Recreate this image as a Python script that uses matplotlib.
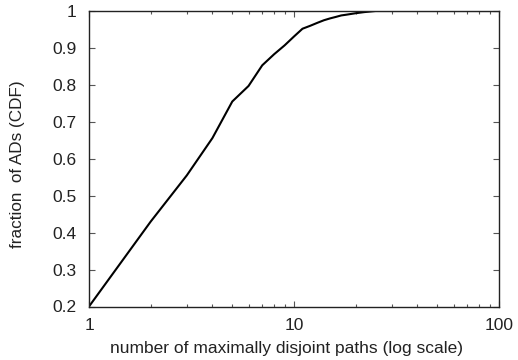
import matplotlib
matplotlib.use("Agg")
import matplotlib.pyplot as plt
from matplotlib.ticker import FixedLocator, NullFormatter

plt.rcParams['font.family'] = ['Liberation Sans', 'DejaVu Sans']

paths = [1, 2, 3, 4, 5, 6, 7, 8, 9, 10, 11, 12, 13, 14, 15, 16, 17, 18, 20, 22, 25, 100]
cdf = [0.2, 0.43, 0.555, 0.656, 0.755, 0.797, 0.853, 0.883, 0.907, 0.931, 0.952,
       0.96, 0.968, 0.975, 0.98, 0.984, 0.988, 0.99, 0.994, 0.997, 1.0, 1.0]
yticks = [0.2, 0.3, 0.4, 0.5, 0.6, 0.7, 0.8, 0.9, 1.0]
ytick_labels = ['0.2', '0.3', '0.4', '0.5', '0.6', '0.7', '0.8', '0.9', '1']
xticks = [1, 10, 100]
xtick_labels = ['1', '10', '100']

fig = plt.figure(figsize=(5.18, 3.6), dpi=100)
ax = fig.add_axes([89/518, 1-306.5/360, 410/518, 295.5/360])
ax.plot(paths, cdf, color='black', lw=1.5)
ax.set_xscale('log')
ax.set_xlim(1, 100)
ax.set_ylim(0.2, 1.0)
ax.set_xticks(xticks)
ax.set_xticklabels(xtick_labels)
ax.xaxis.set_minor_locator(FixedLocator([2,3,4,5,6,7,8,9,20,30,40,50,60,70,80,90]))
ax.xaxis.set_minor_formatter(NullFormatter())
ax.set_yticks(yticks)
ax.set_yticklabels(ytick_labels)
ax.tick_params(which='both', direction='in', top=True, right=True, colors='#555555',
               labelcolor='#222222', labelsize=12.5)
ax.tick_params(which='major', length=4, width=0.8, pad=8)
ax.tick_params(which='minor', length=2, width=0.8)
ax.tick_params(axis='y', pad=9)
for s in ax.spines.values():
    s.set_linewidth(1.0)
    s.set_color('#222222')
ax.set_xlabel('number of maximally disjoint paths (log scale)', fontsize=12.5, color='#222222')
ax.set_ylabel('fraction  of ADs (CDF)', fontsize=12.3, color='#222222')
ax.xaxis.set_label_coords((286-89)/410, -(348-306.5)/295.5)
ax.yaxis.set_label_coords(-(89-18)/410, (306.5-164)/295.5)
ax.xaxis.label.set_va('center')
ax.yaxis.label.set_va('center')
fig.savefig('out.png', dpi=100)
